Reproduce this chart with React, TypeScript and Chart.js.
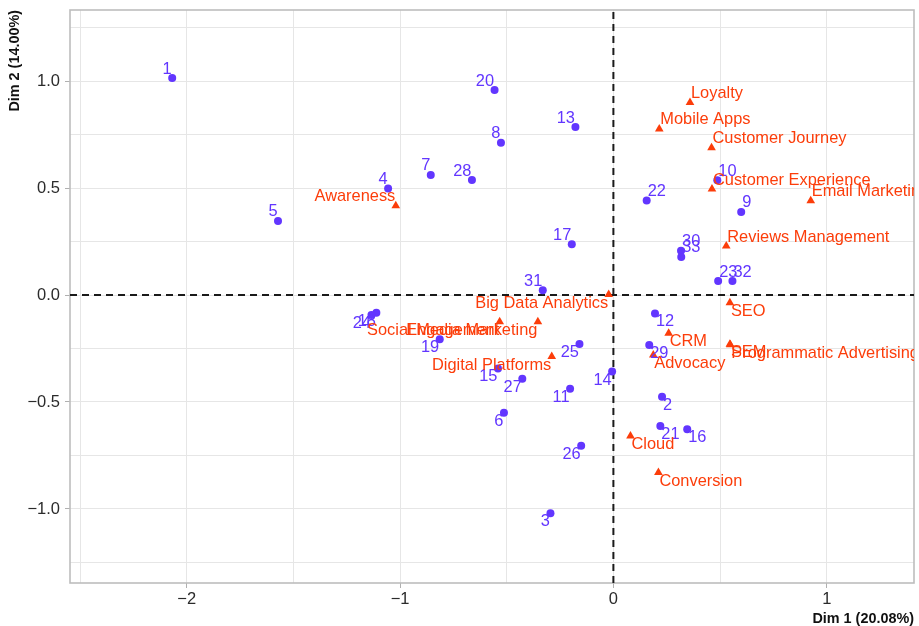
import React, { useEffect, useRef } from "react";
import { Chart, registerables } from "chart.js";

Chart.register(...registerables);

// ---- Data ----
const indLabels = [
  "1", "2", "3", "4", "5", "6", "7", "8", "9", "10", "11",
  "12", "13", "14", "15", "16", "17", "18", "19", "20", "21", "22",
  "23", "24", "25", "26", "27", "28", "29", "30", "31", "32", "33",
];
const indX = [
  -2.068, 0.228, -0.295, -1.056, -1.572, -0.513, -0.856, -0.527, 0.599, 0.487, -0.203,
  0.195, -0.178, -0.006, -0.541, 0.346, -0.195, -1.111, -0.814, -0.557, 0.220, 0.156,
  0.491, -1.134, -0.159, -0.151, -0.427, -0.663, 0.168, 0.317, -0.331, 0.558, 0.318,
];
const indY = [
  1.014, -0.475, -1.020, 0.498, 0.346, -0.550, 0.561, 0.712, 0.388, 0.536, -0.438,
  -0.086, 0.785, -0.358, -0.343, -0.628, 0.237, -0.083, -0.207, 0.958, -0.612, 0.442,
  0.065, -0.093, -0.229, -0.704, -0.391, 0.537, -0.234, 0.207, 0.022, 0.065, 0.178,
];

const varLabels = [
  "Awareness", "Loyalty", "Mobile Apps", "Customer Journey", "Customer Experience",
  "Email Marketing", "Reviews Management", "Big Data Analytics", "SEO", "CRM", "SEM",
  "Programmatic Advertising", "Advocacy", "Cloud", "Conversion", "Digital Platforms",
  "Engagement", "Social Media Marketing",
];
const varX = [
  -1.020, 0.359, 0.215, 0.460, 0.462,
  0.925, 0.529, -0.022, 0.546, 0.259, 0.546,
  0.548, 0.187, 0.080, 0.211, -0.289,
  -0.533, -0.354,
];
const varY = [
  0.417, 0.900, 0.776, 0.688, 0.495,
  0.441, 0.229, 0.002, -0.036, -0.179, -0.230,
  -0.232, -0.280, -0.659, -0.830, -0.288,
  -0.125, -0.125,
];

const xTickValues = [-2, -1, 0, 1];
const xTickLabels = ["\u22122", "\u22121", "0", "1"];
const yTickValues = [-1, -0.5, 0, 0.5, 1];
const yTickLabels = ["\u22121.0", "\u22120.5", "0.0", "0.5", "1.0"];
const xGridValues = [-2.5, -2, -1.5, -1, -0.5, 0, 0.5, 1];
const yGridValues = [-1.25, -1, -0.75, -0.5, -0.25, 0, 0.25, 0.5, 0.75, 1, 1.25];

const xTitle = "Dim 1 (20.08%)";
const yTitle = "Dim 2 (14.00%)";

// ---- Styles ----
const IND_COLOR = "#6236FF";
const VAR_COLOR = "#FC3D0A";
const FONT = '"Liberation Sans", Arial, Helvetica, sans-serif';

// label placement relative to the mark: u/d = above/below, l/r = left/right
const indPlacement: Record<string, string> = {
  "1": "ul", "5": "ul", "4": "ul", "7": "ul", "28": "ul", "20": "ul", "8": "ul",
  "13": "ul", "17": "ul", "31": "ul",
  "22": "ur", "10": "ur", "9": "ur", "30": "ur", "33": "ur", "23": "ur", "32": "ur",
  "24": "dl", "18": "dl", "19": "dl", "15": "dl", "27": "dl", "25": "dl", "14": "dl",
  "11": "dl", "6": "dl", "26": "dl", "3": "dl",
  "12": "dr", "29": "dr", "2": "dr", "21": "dr", "16": "dr",
};
const varPlacement: Record<string, string> = {
  "Awareness": "ul",
  "Loyalty": "ur", "Mobile Apps": "ur", "Customer Journey": "ur",
  "Customer Experience": "ur", "Email Marketing": "ur", "Reviews Management": "ur",
  "Big Data Analytics": "dl", "Social Media Marketing": "dl", "Engagement": "dl",
  "Digital Platforms": "dl",
  "SEO": "dr", "CRM": "dr", "SEM": "dr", "Programmatic Advertising": "dr",
  "Advocacy": "dr", "Cloud": "dr", "Conversion": "dr",
};

const decorPlugin = {
  id: "decor",
  beforeDatasetsDraw(chart: any) {
    const { ctx, chartArea: a, scales } = chart;
    const x0 = scales.x.getPixelForValue(0);
    const y0 = scales.y.getPixelForValue(0);
    ctx.save();
    // panel border
    ctx.strokeStyle = "#bdbdbd";
    ctx.lineWidth = 1.6;
    ctx.strokeRect(a.left, a.top, a.right - a.left, a.bottom - a.top);
    // dashed reference lines
    ctx.beginPath();
    ctx.rect(a.left, a.top, a.right - a.left, a.bottom - a.top);
    ctx.clip();
    ctx.strokeStyle = "#1a1a1a";
    ctx.lineWidth = 2;
    ctx.setLineDash([7, 5]);
    ctx.beginPath();
    ctx.moveTo(a.left, y0);
    ctx.lineTo(a.right, y0);
    ctx.moveTo(x0, a.bottom);
    ctx.lineTo(x0, a.top);
    ctx.stroke();
    ctx.restore();
  },
  afterDatasetsDraw(chart: any) {
    const { ctx, chartArea: a, scales } = chart;
    ctx.save();
    ctx.beginPath();
    ctx.rect(a.left, a.top, a.right - a.left, a.bottom - a.top);
    ctx.clip();
    ctx.font = `16.4px ${FONT}`;
    ctx.textBaseline = "alphabetic";
    const drawLabel = (txt: string, vx: number, vy: number, place: string, color: string) => {
      const px = scales.x.getPixelForValue(vx);
      const py = scales.y.getPixelForValue(vy);
      ctx.fillStyle = color;
      const up = place[0] === "u";
      const left = place[1] === "l";
      ctx.textAlign = left ? "right" : "left";
      const tx = left ? px - 0.5 : px + 1;
      const ty = up ? py - 4.5 : py + 13;
      ctx.fillText(txt, tx, ty);
    };
    indLabels.forEach((l, i) => drawLabel(l, indX[i], indY[i], indPlacement[l] || "ul", IND_COLOR));
    varLabels.forEach((l, i) => drawLabel(l, varX[i], varY[i], varPlacement[l] || "ur", VAR_COLOR));
    ctx.restore();
  },
  afterDraw(chart: any) {
    const { ctx, chartArea: a } = chart;
    ctx.save();
    ctx.fillStyle = "#111";
    ctx.font = `bold 14.4px ${FONT}`;
    ctx.textBaseline = "middle";
    ctx.textAlign = "right";
    ctx.fillText(xTitle, a.right, 619);
    ctx.translate(15, a.top);
    ctx.rotate(-Math.PI / 2);
    ctx.textAlign = "right";
    ctx.fillText(yTitle, 0, 0);
    ctx.restore();
  },
};

export default function App() {
  const canvasRef = useRef<HTMLCanvasElement | null>(null);

  useEffect(() => {
    if (!canvasRef.current) return;
    const chart = new Chart(canvasRef.current, {
      type: "scatter",
      data: {
        datasets: [
          {
            label: "Individuals",
            data: indX.map((x, i) => ({ x, y: indY[i] })),
            pointStyle: "circle",
            pointRadius: 4,
            pointBackgroundColor: IND_COLOR,
            pointBorderColor: IND_COLOR,
            pointBorderWidth: 0,
          },
          {
            label: "Variables",
            data: varX.map((x, i) => ({ x, y: varY[i] })),
            pointStyle: "triangle",
            pointRadius: 5,
            pointBackgroundColor: VAR_COLOR,
            pointBorderColor: VAR_COLOR,
            pointBorderWidth: 0,
          },
        ],
      },
      options: {
        responsive: false,
        animation: false,
        events: [],
        layout: { padding: { top: 10, right: 4, left: 0, bottom: 0 } },
        plugins: {
          legend: { display: false },
          tooltip: { enabled: false },
        },
        scales: {
          x: {
            type: "linear",
            min: -2.547,
            max: 1.409,
            afterBuildTicks: (scale: any) => {
              scale.ticks = xGridValues.map((v) => ({ value: v }));
            },
            afterFit: (scale: any) => {
              scale.height = 43;
              scale.paddingLeft = 0;
              scale.paddingRight = 0;
              scale.paddingTop = 0;
              scale.paddingBottom = 0;
            },
            border: { display: false },
            grid: {
              color: "#e6e6e6",
              lineWidth: 1,
              drawTicks: true,
              tickLength: 5,
              tickColor: (c: any) =>
                c.tick && xTickValues.includes(c.tick.value) ? "#b0b0b0" : "rgba(0,0,0,0)",
            },
            ticks: {
              autoSkip: false,
              maxRotation: 0,
              padding: 2,
              color: "#2b2b2b",
              font: { family: FONT, size: 16.5 },
              callback: (v: any) => {
                const i = xTickValues.indexOf(Number(v));
                return i >= 0 ? xTickLabels[i] : "";
              },
            },
          },
          y: {
            type: "linear",
            min: -1.346,
            max: 1.332,
            afterBuildTicks: (scale: any) => {
              scale.ticks = yGridValues.map((v) => ({ value: v }));
            },
            afterFit: (scale: any) => {
              scale.width = 70;
              scale.paddingLeft = 0;
              scale.paddingRight = 0;
              scale.paddingTop = 0;
              scale.paddingBottom = 0;
            },
            border: { display: false },
            grid: {
              color: "#e6e6e6",
              lineWidth: 1,
              drawTicks: true,
              tickLength: 5,
              tickColor: (c: any) =>
                c.tick && yTickValues.includes(c.tick.value) ? "#b0b0b0" : "rgba(0,0,0,0)",
            },
            ticks: {
              autoSkip: false,
              padding: 5,
              color: "#2b2b2b",
              font: { family: FONT, size: 16.5 },
              callback: (v: any) => {
                const i = yTickValues.indexOf(Number(v));
                return i >= 0 ? yTickLabels[i] : "";
              },
            },
          },
        },
      },
      plugins: [decorPlugin],
    });
    return () => chart.destroy();
  }, []);

  return (
    <div style={{ position: "fixed", left: 0, top: 0, width: 919, height: 626, background: "#fff" }}>
      <canvas ref={canvasRef} width={919} height={626} style={{ display: "block" }} />
    </div>
  );
}
